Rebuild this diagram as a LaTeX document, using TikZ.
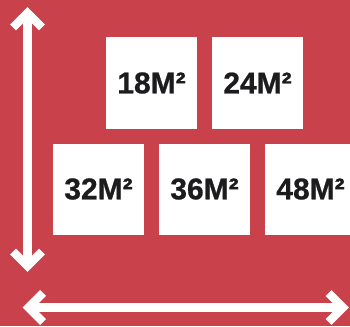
\documentclass[tikz,border=0pt]{standalone}
\usepackage{fontspec}
\setmainfont{Liberation Sans}
\newfontfamily\tilefont[FakeBold=0.8]{Liberation Sans Bold}
\usetikzlibrary{calc}
\definecolor{bgred}{RGB}{201,65,74}
\definecolor{txt}{RGB}{28,28,30}
\begin{document}
\begin{tikzpicture}[x=1pt,y=-1pt,
  tile/.style={fill=white,draw=none,minimum width=91pt,minimum height=91pt,inner sep=0pt,
    font=\tilefont\fontsize{30}{30}\selectfont,text=txt},
  shaft/.style={draw=white,line width=8.3pt},
  chev/.style={draw=white,line width=8.3pt,line join=miter,line cap=butt}]
\fill[bgred] (0,0) rectangle (350,326);
\useasboundingbox (0,0) rectangle (350,326);
\clip (0,0) rectangle (350,326);
\node[tile] (a) at (151.5,83) {18M²};
\node[tile] (b) at (257.5,83) {24M²};
\node[tile] (c) at (98.5,189) {32M²};
\node[tile] (d) at (204.5,189) {36M²};
\node[tile] (e) at (310.5,189) {48M²};
% vertical arrow
\coordinate (vt) at (27.5,12.9);
\coordinate (vb) at (27.5,266.1);
\draw[shaft] (vt) -- (vb);
\draw[chev] ($(vt)+(-14.5,14.5)$) -- (vt) -- ($(vt)+(14.5,14.5)$);
\draw[chev] ($(vb)+(-14.5,-14.5)$) -- (vb) -- ($(vb)+(14.5,-14.5)$);
% horizontal arrow
\coordinate (hl) at (28.6,307.5);
\coordinate (hr) at (343.1,307.5);
\draw[shaft] (hl) -- (hr);
\draw[chev] ($(hl)+(14.5,-14.5)$) -- (hl) -- ($(hl)+(14.5,14.5)$);
\draw[chev] ($(hr)+(-14.5,-14.5)$) -- (hr) -- ($(hr)+(-14.5,14.5)$);
\end{tikzpicture}
\end{document}
